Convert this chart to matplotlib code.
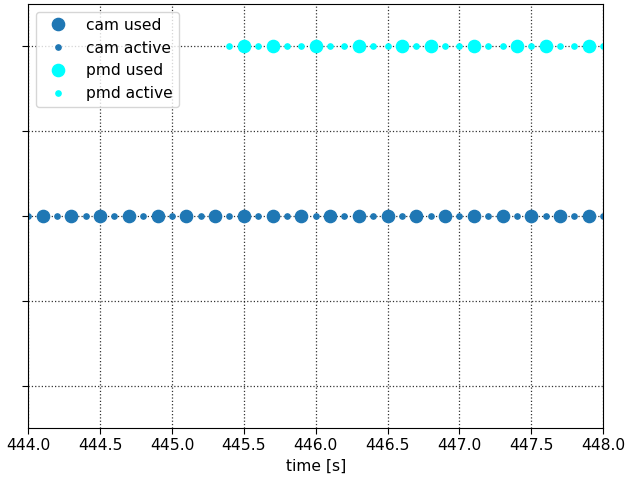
import matplotlib
matplotlib.use('Agg')
import matplotlib.pyplot as plt

# frame times
cam_active = [444.0, 444.1, 444.2, 444.3, 444.4, 444.5, 444.6, 444.7, 444.8, 444.9,
              445.0, 445.1, 445.2, 445.3, 445.4, 445.5, 445.6, 445.7, 445.8, 445.9,
              446.0, 446.1, 446.2, 446.3, 446.4, 446.5, 446.6, 446.7, 446.8, 446.9,
              447.0, 447.1, 447.2, 447.3, 447.4, 447.5, 447.6, 447.7, 447.8, 447.9,
              448.0]
cam_used = [444.1, 444.3, 444.5, 444.7, 444.9, 445.1, 445.3, 445.5, 445.7, 445.9,
            446.1, 446.3, 446.5, 446.7, 446.9, 447.1, 447.3, 447.5, 447.7, 447.9]
pmd_active = [445.4, 445.5, 445.6, 445.7, 445.8, 445.9, 446.0, 446.1, 446.2, 446.3,
              446.4, 446.5, 446.6, 446.7, 446.8, 446.9, 447.0, 447.1, 447.2, 447.3,
              447.4, 447.5, 447.6, 447.7, 447.8, 447.9, 448.0]
pmd_used = [445.5, 445.7, 446.0, 446.3, 446.6, 446.8, 447.1, 447.4, 447.6, 447.9]

cam_level = 2
pmd_level = 4

plt.rcParams['font.size'] = 11.2
plt.rcParams['xtick.major.size'] = 4
plt.rcParams['ytick.major.size'] = 4

fig = plt.figure(figsize=(6.27, 4.83), dpi=100)
ax = fig.add_axes([0.045, 0.114, 0.917, 0.878])

ax.plot(cam_used, [cam_level] * len(cam_used), 'o', color='#1f77b4', ms=8.8, label='cam used')
ax.plot(cam_active, [cam_level] * len(cam_active), 'o', color='#1f77b4', ms=3.8, label='cam active')
ax.plot(pmd_used, [pmd_level] * len(pmd_used), 'o', color='cyan', ms=8.8, label='pmd used')
ax.plot(pmd_active, [pmd_level] * len(pmd_active), 'o', color='cyan', ms=3.8, label='pmd active')

ax.set_xlim(444.0, 448.0)
ax.set_ylim(-0.5, 4.5)
ax.set_yticks([0, 1, 2, 3, 4])
ax.set_yticklabels([])
ax.grid(True, color='k', linestyle=':', linewidth=0.9, alpha=0.8)
ax.set_xlabel('time [s]')
ax.legend(loc='upper left', numpoints=1)

fig.savefig('out.png', dpi=100)
